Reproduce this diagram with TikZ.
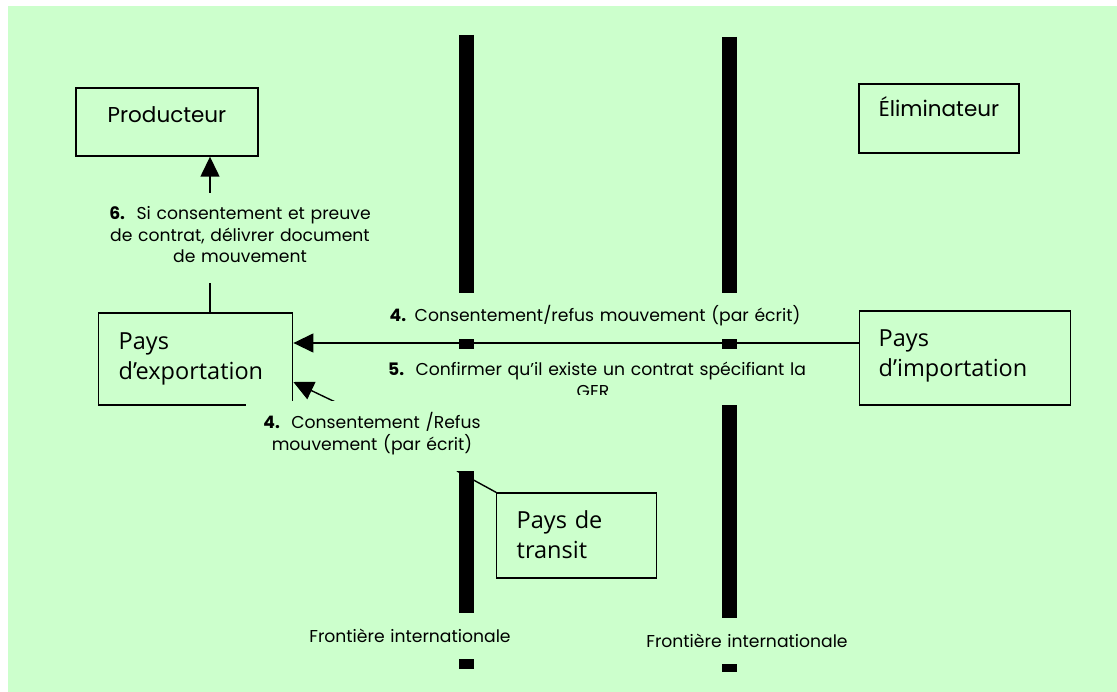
\documentclass[tikz,border=0pt]{standalone}
\usepackage{fontspec}
\setmainfont{Poppins}
\newfontfamily\boxfont{Open Sans}
\usetikzlibrary{arrows.meta,calc}
\definecolor{bg}{HTML}{CCFFCC}
\begin{document}
\begin{tikzpicture}[x=1pt,y=-1pt,
  bar/.style={line width=15pt,black},
  conn/.style={line width=1.4pt,black},
  arr/.style={conn,-{Triangle[length=20pt,width=19pt]}},
  actor/.style={draw,line width=1.4pt,fill=bg,inner sep=0pt,anchor=base,
    font=\fontsize{21.5}{25}\selectfont},
  country/.style={draw,line width=1.4pt,fill=bg,inner ysep=0pt,anchor=base west,
    align=left,font=\boxfont\fontsize{23.5}{30}\selectfont},
  lbl/.style={fill=bg,inner sep=0pt,anchor=base,align=center,
    font=\fontsize{17.2}{21.5}\selectfont}]
\useasboundingbox (0,0) rectangle (1117,692);
\fill[bg] (8,6) rectangle (1117,692);

% international borders
\draw[bar] (466.5,35) -- (466.5,669);
\draw[bar] (729.5,37) -- (729.5,672);

% actors and countries
\node[actor,minimum width=182pt,text height=35pt,text depth=33pt] (prod) at (167,123) {Producteur};
\node[actor,minimum width=160pt,text height=33pt,text depth=36pt] (elim) at (939,117) {Éliminateur};
\node[country,inner xsep=20pt,text width=154pt,text height=37pt,text depth=55pt] (exp) at (98,350) {Pays\\d’exportation};
\node[country,inner xsep=19pt,text width=173pt,text height=36pt,text depth=58pt] (imp) at (859,347) {Pays\\d’importation};
\node[country,inner xsep=20pt,text width=120pt,text height=35pt,text depth=50pt] (trans) at (496,528) {Pays de\\transit};

% connectors
\coordinate (c6) at (210,0);
\coordinate (c4) at (0,343);
\coordinate (cd) at (0,382);
\coordinate (d0) at (373,420);
\coordinate (ct) at (457,471);
\draw[arr] (exp.north -| c6) -- (prod.south -| c6);
\draw[arr] (imp.west |- c4) -- (exp.east |- c4);
\draw[arr] (d0) -- (exp.east |- cd);
\draw[conn] (ct) -- (trans.north west);

% message labels
\node[lbl,text width=272pt,text height=27pt,text depth=63pt] (m6) at (240,220)
  {\textbf{6.}\ \ Si consentement et preuve\\de contrat, délivrer document\\de mouvement};
\node[lbl,text width=440pt,text height=29pt,text depth=17pt] (m4) at (595,322)
  {\textbf{4.} Consentement/refus mouvement (par écrit)};
\node[lbl,text width=440pt,text height=27pt,text depth=29pt] (m5) at (597,376)
  {\textbf{5.}\ \ Confirmer qu’il existe un contrat spécifiant la};
\begin{scope}
  \clip (m5.west |- 0,380) rectangle (m5.east |- 0,395);
  \node[lbl,fill=none] (m5b) at (593,398) {GER};
\end{scope}
\node[lbl,text width=252pt,text height=28pt,text depth=42pt] (m4b) at (372,429)
  {\textbf{4.}\ \ Consentement /Refus\\mouvement (par écrit)};

% border captions
\node[lbl,text width=240pt,text height=29pt,text depth=17pt] (f1) at (410,642) {Frontière internationale};
\node[lbl,text width=240pt,text height=29pt,text depth=17pt] (f2) at (747,647) {Frontière internationale};
\end{tikzpicture}
\end{document}
